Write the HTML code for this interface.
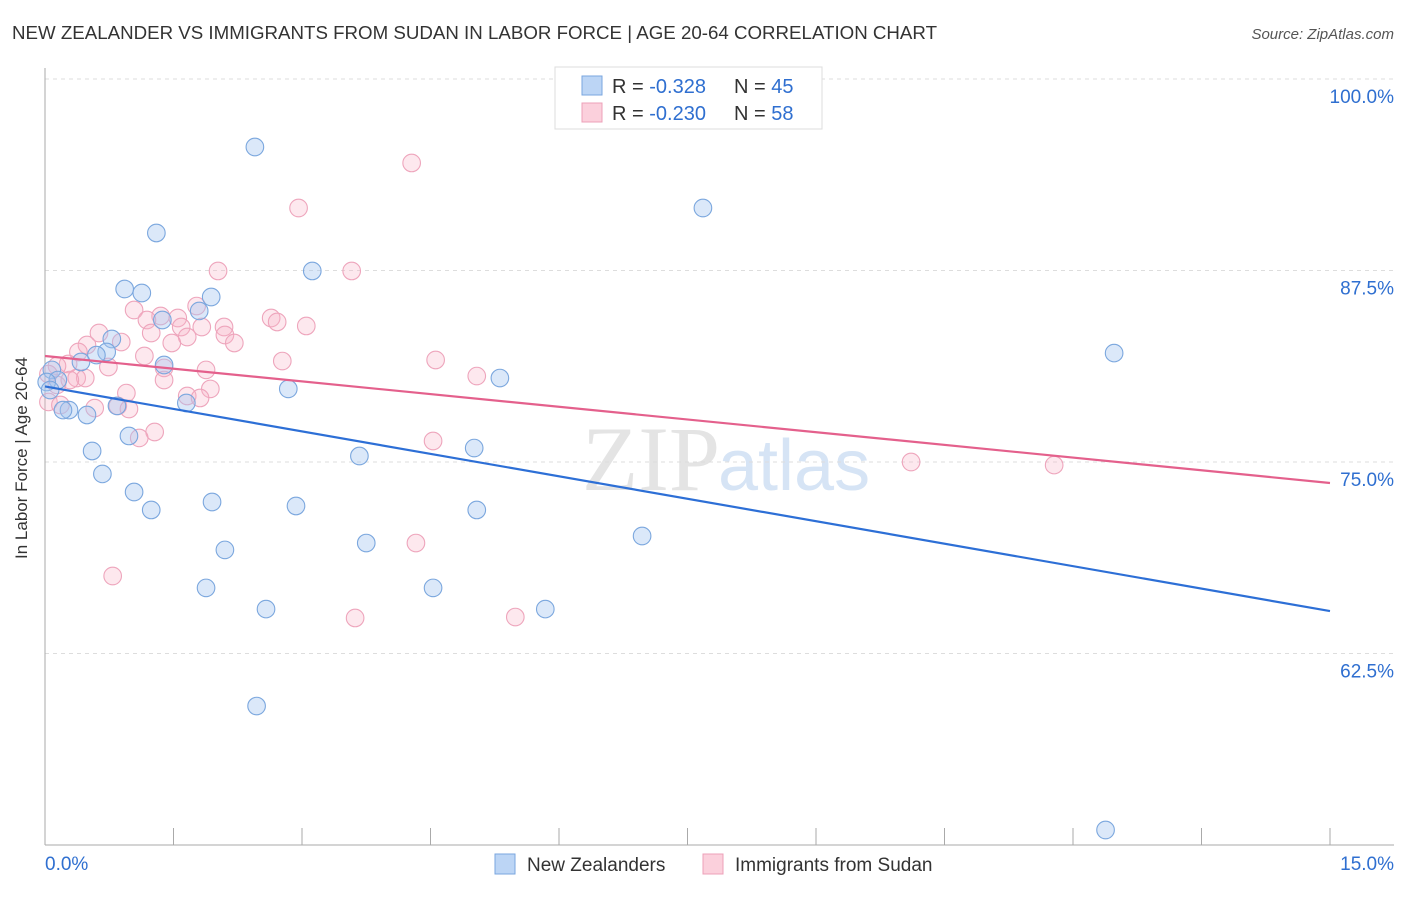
<!DOCTYPE html>
<html><head><meta charset="utf-8"><style>
body{margin:0;background:#fff;font-family:"Liberation Sans",sans-serif;}
</style></head><body>
<svg id="c" width="1406" height="892" xmlns="http://www.w3.org/2000/svg">
<text x="12" y="39" font-size="18" fill="#333" textLength="925" lengthAdjust="spacingAndGlyphs">NEW ZEALANDER VS IMMIGRANTS FROM SUDAN IN LABOR FORCE | AGE 20-64 CORRELATION CHART</text>
<text x="1394" y="39" font-size="15" fill="#555" text-anchor="end" font-style="italic">Source: ZipAtlas.com</text>
<text x="720" y="490" font-size="92" fill="#e4e4e4" text-anchor="end" font-family="Liberation Serif">ZIP</text>
<text x="718" y="490" font-size="72" fill="#d6e4f5" font-family="Liberation Sans">atlas</text>
<g id="grid"></g><g id="axes"></g><g id="pts"></g><g id="trend"></g>
<text x="27" y="458" font-size="17" fill="#333" text-anchor="middle" transform="rotate(-90 27 458)">In Labor Force | Age 20-64</text>
<g>
<rect x="555" y="67" width="267" height="62" fill="#fff" stroke="#ddd"/>
<rect x="582" y="76" width="20" height="19" fill="#bcd5f5" stroke="#7aa6df"/>
<rect x="582" y="103" width="20" height="19" fill="#fbd0dc" stroke="#eca0b8"/>
<text x="612" y="93" font-size="20" fill="#333">R = <tspan fill="#2f6fd0">-0.328</tspan></text>
<text x="734" y="93" font-size="20" fill="#333">N = <tspan fill="#2f6fd0">45</tspan></text>
<text x="612" y="120" font-size="20" fill="#333">R = <tspan fill="#2f6fd0">-0.230</tspan></text>
<text x="734" y="120" font-size="20" fill="#333">N = <tspan fill="#2f6fd0">58</tspan></text>
</g>
<g>
<rect x="495" y="854" width="20" height="20" fill="#bcd5f5" stroke="#7aa6df"/>
<text x="527" y="871" font-size="19" fill="#333">New Zealanders</text>
<rect x="703" y="854" width="20" height="20" fill="#fbd0dc" stroke="#eca0b8"/>
<text x="735" y="871" font-size="19" fill="#333">Immigrants from Sudan</text>
</g>
<text x="45" y="870" font-size="19" fill="#2f6fd0">0.0%</text>
<text x="1394" y="870" font-size="19" fill="#2f6fd0" text-anchor="end">15.0%</text>
</svg>
<script>
const yTicks=[100,87.5,75,62.5];
const yTickLabels=["100.0%","87.5%","75.0%","62.5%"];
const xTicks=[0,1.5,3,4.5,6,7.5,9,10.5,12,13.5,15];
const blueX=[2.45,1.30,7.68,3.12,0.93,1.13,1.94,1.80,1.37,0.78,0.72,0.60,0.42,1.39,0.08,0.15,0.02,2.84,5.31,12.48,1.65,0.84,0.28,0.21,0.49,0.98,0.55,5.01,3.67,0.67,1.04,1.24,1.95,2.93,5.04,2.10,3.75,6.97,1.88,4.53,2.58,5.84,2.47,12.38,0.06];
const blueY=[95.56,89.95,91.58,87.47,86.29,86.03,85.77,84.86,84.27,83.03,82.18,81.98,81.53,81.33,81.01,80.35,80.22,79.77,80.48,82.11,78.85,78.66,78.39,78.39,78.07,76.70,75.72,75.91,75.39,74.22,73.04,71.87,72.39,72.13,71.87,69.26,69.71,70.17,66.78,66.78,65.40,65.40,59.07,50.98,79.70];
const pinkX=[4.28,2.96,2.02,3.58,1.77,1.04,1.35,1.55,1.19,2.64,2.71,3.05,1.59,1.83,2.09,0.63,1.24,1.66,2.10,2.21,0.89,0.49,0.39,1.16,1.48,4.56,2.77,0.27,0.74,1.39,1.88,0.14,0.04,0.37,0.47,1.39,5.04,1.93,0.95,1.66,0.04,1.81,0.58,0.85,0.98,0.18,1.28,1.10,4.53,10.11,11.78,0.79,4.33,3.62,5.49,0.14,0.29];
const pinkY=[94.52,91.58,87.47,87.47,85.18,84.92,84.53,84.40,84.27,84.40,84.14,83.88,83.81,83.81,83.81,83.42,83.42,83.16,83.29,82.77,82.83,82.64,82.18,81.92,82.77,81.66,81.59,81.40,81.20,81.14,81.01,81.27,80.74,80.48,80.48,80.35,80.61,79.77,79.50,79.31,78.92,79.18,78.52,78.66,78.46,78.72,76.96,76.57,76.37,75.00,74.80,67.56,69.71,64.82,64.88,80.03,80.35];
const blueTrend=[79.93,65.27];
const pinkTrend=[81.92,73.63];
const NS="http://www.w3.org/2000/svg";
const X=v=>45+(v/15)*1285;
const Y=v=>79+(100-v)*15.32;
function mk(t,a,p){const e=document.createElementNS(NS,t);for(const k in a)e.setAttribute(k,a[k]);document.getElementById(p).appendChild(e);return e;}
yTicks.forEach((t,i)=>{
 const g=mk('line',{x1:45,x2:1394,y1:Y(t),y2:Y(t),stroke:'#ddd','stroke-dasharray':'4 4'},'grid');
 
 
 const l=mk('text',{x:1394,y:Y(t)+24,'font-size':19,fill:'#2f6fd0','text-anchor':'end'},'grid');
 l.textContent=yTickLabels[i];
 
 
});
const ax=mk('line',{x1:45,x2:45,y1:68,y2:845,stroke:'#aaa'},'axes');


const bx=mk('line',{x1:45,x2:1394,y1:845,y2:845,stroke:'#aaa'},'axes');


xTicks.forEach(t=>{const k=mk('line',{x1:X(t),x2:X(t),y1:828,y2:845,stroke:'#aaa'},'axes');
 
 });
function pts(xs,ys,fill,stroke,name){xs.forEach((x,i)=>{
 const c=mk('circle',{cx:X(x),cy:Y(ys[i]),r:8.8,fill:fill,stroke:stroke,'stroke-width':1.1},'pts');
 
 });}
pts(pinkX,pinkY,'rgba(247,180,198,0.3)','#eea5bc','point-sudan');
pts(blueX,blueY,'rgba(165,198,240,0.4)','#7ba7de','point-new-zealander');
const tb=mk('line',{x1:X(0),y1:Y(blueTrend[0]),x2:X(15),y2:Y(blueTrend[1]),stroke:'#2d6fd6','stroke-width':2.2},'trend');


const tp=mk('line',{x1:X(0),y1:Y(pinkTrend[0]),x2:X(15),y2:Y(pinkTrend[1]),stroke:'#e4608c','stroke-width':2.2},'trend');


</script>
</body></html>
